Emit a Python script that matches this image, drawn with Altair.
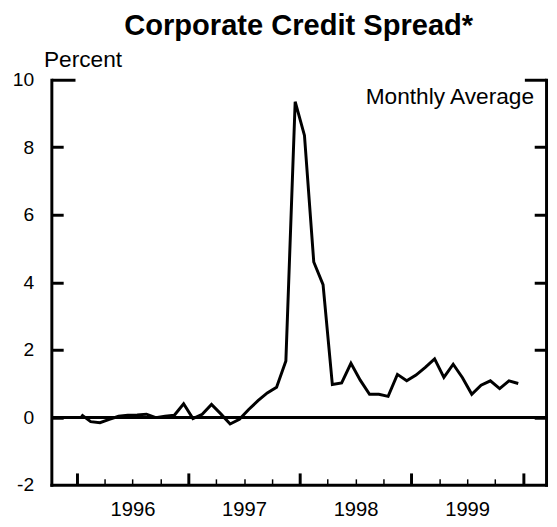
import altair as alt
import pandas as pd
import numpy as np

# ---- data ----
months = [f"{y}-{m:02d}" for y in range(1996, 2000) for m in range(1, 13)]
spread = [0.08, -0.13, -0.16, -0.06, 0.03, 0.06, 0.07, 0.09, -0.01, 0.03, 0.06, 0.40,
          -0.04, 0.09, 0.38, 0.10, -0.20, -0.06, 0.23, 0.49, 0.72, 0.89, 1.67, 9.35,
          8.35, 4.60, 3.93, 0.97, 1.02, 1.60, 1.10, 0.68, 0.68, 0.62, 1.27, 1.08,
          1.25, 1.48, 1.73, 1.18, 1.57, 1.17, 0.68, 0.95, 1.08, 0.85, 1.08, 1.00]
year_labels = ["1996", "1997", "1998", "1999"]
y_ticks = [-2, 0, 2, 4, 6, 8, 10]
annotation = ["Monthly Average"]

FONT = "Liberation Sans"
W, H = 502, 411

df = pd.DataFrame({"month": months, "spread": spread})
df["t"] = np.arange(len(months)) + 0.5  # months since Jan 1996 (mid-month)

xs = alt.Scale(domain=[-2.73, 50.49], nice=False, zero=False)
ys = alt.Scale(domain=[-2, 10], nice=False, zero=False)

year_starts = [12 * i for i in range(len(year_labels) + 1)]
year_mids = [12 * i + 6 for i in range(len(year_labels))]
quarters = [12 * i + q for i in range(len(year_labels)) for q in (3, 6, 9)]
label_expr = "[" + ",".join(f"'{y}'" for y in year_labels) + "][floor(datum.value / 12)]"

base = alt.Chart(df)


def tick_axis(**kw):
    return alt.Axis(labels=False, domain=False, grid=False, title=None,
                    tickColor="black", **kw)


line = base.mark_line(color="black", strokeWidth=3, strokeJoin="miter").encode(
    x=alt.X("t:Q", scale=xs, axis=alt.Axis(
        orient="bottom", values=year_mids, labelExpr=label_expr, ticks=False,
        domain=True, domainWidth=3, domainColor="black", domainCap="square",
        labelPadding=15, labelFontSize=20.5, labelFont=FONT, labelColor="black",
        title=None, grid=False)),
    y=alt.Y("spread:Q", scale=ys, axis=alt.Axis(
        orient="left", values=y_ticks, labelExpr="'' + datum.value", ticks=False,
        domainWidth=3, domainColor="black", domainCap="square", labelPadding=18,
        labelFontSize=19.5, labelFont=FONT, labelColor="black", grid=False,
        title="Percent", titleAngle=0, titleAlign="left",
        titleBaseline="alphabetic", titleX=-8, titleY=-13, titleFontSize=23,
        titleFontWeight="normal", titleFont=FONT, titleColor="black")),
)

zero = base.mark_rule(color="black", strokeWidth=2).encode(
    y=alt.YDatum(0, scale=ys, axis=None)
)

note = alt.Chart(pd.DataFrame({"label": annotation})).mark_text(
    align="right", baseline="alphabetic", fontSize=23, font=FONT, color="black"
).encode(
    x=alt.XDatum(49.2, scale=xs, axis=None),
    y=alt.YDatum(9.27, scale=ys, axis=None),
    text="label:N",
)


def axis_layer(xaxis, yaxis):
    return base.mark_point(opacity=0).encode(
        x=alt.X("t:Q", scale=xs, axis=xaxis),
        y=alt.Y("spread:Q", scale=ys, axis=yaxis),
    )


a1 = axis_layer(
    tick_axis(orient="top", offset=-H, values=year_starts, tickSize=12, tickWidth=3),
    tick_axis(orient="right", offset=-W, values=[0, 2, 4, 6, 8], tickSize=12, tickWidth=3),
)
a2 = axis_layer(
    tick_axis(orient="top", offset=-H, values=quarters, tickSize=6, tickWidth=1.5),
    tick_axis(orient="left", offset=-W, values=[0, 2, 4, 6, 8], tickSize=12, tickWidth=3),
)
a3 = axis_layer(
    None,
    alt.Axis(orient="right", values=y_ticks, ticks=False, labels=False, domain=True,
             domainWidth=3, domainColor="black", domainCap="square", grid=False, title=None),
)
a4 = axis_layer(None, tick_axis(orient="right", offset=-W, values=[10], tickSize=24, tickWidth=3))
a5 = axis_layer(None, tick_axis(orient="left", offset=-W, values=[10], tickSize=22, tickWidth=3))

chart = alt.layer(line, zero, note, a1, a2, a3, a4, a5).resolve_axis(
    x="independent", y="independent"
).properties(
    width=W,
    height=H,
    autosize=alt.AutoSizeParams(type="none"),
    padding={"left": 44, "top": 69, "right": 3, "bottom": 35},
    title=alt.TitleParams("Corporate Credit Spread*", fontSize=29.5, fontWeight="bold",
                          font=FONT, color="black", anchor="middle", frame="group",
                          offset=8),
).configure_view(stroke=None)

chart.save("out.html", embed_options={"renderer": "svg", "actions": False})
